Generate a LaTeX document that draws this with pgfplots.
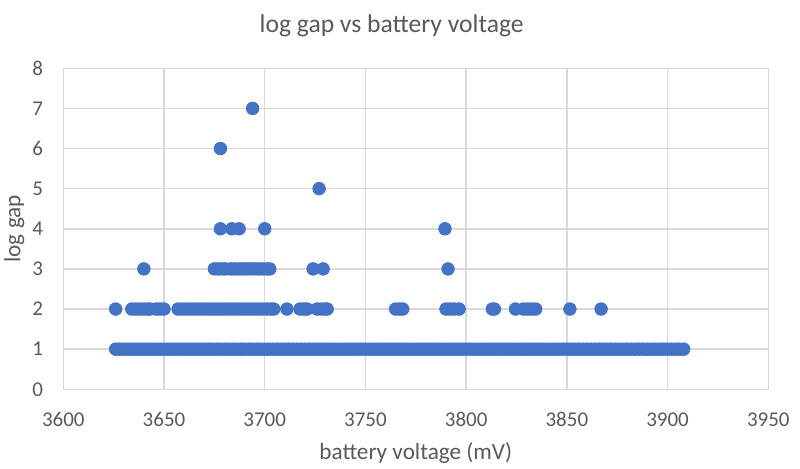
\documentclass[border=0pt]{standalone}
\usepackage{fontspec}
\setmainfont{Carlito}
\usepackage{pgfplots}
\pgfplotsset{compat=1.18}
\definecolor{dotblue}{HTML}{4472C4}
\definecolor{gridgray}{HTML}{D9D9D9}
\definecolor{txtgray}{HTML}{595959}
\pgfplotsset{dots/.style={only marks, mark=*, mark size=3.15pt, color=dotblue, mark options={draw=none, fill=dotblue}}}
\begin{document}
\begin{tikzpicture}
\useasboundingbox (-31.65pt,-39.85pt) rectangle (368.35pt,194.65pt);
\begin{axis}[
 at={(0,0)}, anchor=south west, scale only axis, width=352.5pt, height=160.5pt,
 xmin=3600,xmax=3950,ymin=0,ymax=8,
 xtick={3600,3650,...,3950}, ytick={0,1,...,8},
 grid=major, major grid style={gridgray, line width=0.75pt},
 axis line style={gridgray, line width=0.75pt},
 major tick length=0pt,
 tick label style={font=\fontsize{10.5}{12}\selectfont, text=txtgray, /pgf/number format/assume math mode=true, /pgf/number format/1000 sep={}},
 xticklabel style={anchor=base, yshift=-18.5pt},
 yticklabel style={anchor=east, inner sep=0pt, xshift=-10pt},
 clip=false,
]
% value 1
\addplot[dots] coordinates {
(3626,1)(3628,1)(3630,1)(3632,1)(3634,1)(3636,1)(3638,1)(3640,1)(3642,1)(3644,1)(3646,1)(3648,1)(3650,1)(3652,1)(3654,1)(3656,1)(3658,1)(3660,1)(3662,1)(3664,1)(3666,1)(3668,1)(3670,1)(3672,1)(3674,1)(3676,1)(3678,1)(3680,1)(3682,1)(3684,1)(3686,1)(3688,1)(3690,1)(3692,1)(3694,1)(3696,1)(3698,1)(3700,1)(3702,1)(3704,1)(3706,1)(3708,1)(3710,1)(3712,1)(3714,1)(3716,1)(3718,1)(3720,1)(3722,1)(3724,1)(3726,1)(3728,1)(3730,1)(3732,1)(3734,1)(3736,1)(3738,1)(3740,1)(3742,1)(3744,1)(3746,1)(3748,1)(3750,1)(3752,1)(3754,1)(3756,1)(3758,1)(3760,1)(3762,1)(3764,1)(3766,1)(3768,1)(3770,1)(3772,1)(3774,1)(3776,1)(3778,1)(3780,1)(3782,1)(3784,1)(3786,1)(3788,1)(3790,1)(3792,1)(3794,1)(3796,1)(3798,1)(3800,1)(3802,1)(3804,1)(3806,1)(3808,1)(3810,1)(3812,1)(3814,1)(3816,1)(3818,1)(3820,1)(3822,1)(3824,1)(3826,1)(3828,1)(3830,1)(3832,1)(3834,1)(3836,1)(3838,1)(3840,1)(3842,1)(3844,1)(3846,1)(3848,1)(3850,1)(3852,1)(3854,1)(3856,1)(3858,1)(3860,1)(3862,1)(3864,1)(3866,1)(3868,1)(3870,1)(3872,1)(3874,1)(3876,1)(3878,1)(3880,1)(3882,1)(3884,1)(3886,1)(3888,1)(3890,1)(3892,1)(3894,1)(3896,1)(3898,1)(3900,1)(3902,1)(3904,1)(3906,1)(3908,1)
};
% value 2
\addplot[dots] coordinates {
(3626,2)(3634,2)(3636,2)(3638,2)(3640,2)(3642,2)(3643,2)(3646,2)(3648,2)(3650,2)
(3657,2)(3659,2)(3661,2)(3663,2)(3665,2)(3667,2)(3669,2)(3671,2)(3673,2)(3675,2)(3677,2)(3679,2)(3681,2)(3683,2)(3685,2)(3687,2)(3689,2)(3691,2)(3693,2)(3695,2)(3697,2)(3699,2)(3701,2)(3703,2)(3704.5,2)
(3711,2)(3717.5,2)(3719.5,2)(3721,2)(3726,2)(3728,2)(3730,2)(3731,2)
(3765,2)(3767,2)(3768.5,2)(3790,2)(3792,2)(3794,2)(3796.5,2)(3813,2)(3814,2)(3824.5,2)
(3828.5,2)(3830.5,2)(3832.5,2)(3834.5,2)(3851.5,2)(3867,2)
};
% value 3
\addplot[dots] coordinates {
(3640,3)(3675,3)(3677,3)(3679,3)(3680.5,3)(3683,3)(3685,3)(3687,3)(3689,3)(3691,3)(3693,3)(3695,3)(3697,3)(3699,3)(3701,3)(3702.5,3)
(3724,3)(3729,3)(3791,3)
};
% values 4 to 7
\addplot[dots] coordinates {
(3678,4)(3683.7,4)(3687.3,4)(3700,4)(3789.5,4)
(3727,5)(3678,6)(3694,7)
};
\node[anchor=base, font=\fontsize{12.8}{15}\selectfont, text=txtgray] at (rel axis cs:0.4658,1.1121) {log gap vs battery voltage};
\node[anchor=base, font=\fontsize{11.6}{14}\selectfont, text=txtgray] at (rel axis cs:0.5,-0.2180) {battery voltage (mV)};
\node[anchor=base, rotate=90, font=\fontsize{11.6}{14}\selectfont, text=txtgray] at (rel axis cs:-0.0610,0.5) {log gap};
\end{axis}
\end{tikzpicture}
\end{document}
